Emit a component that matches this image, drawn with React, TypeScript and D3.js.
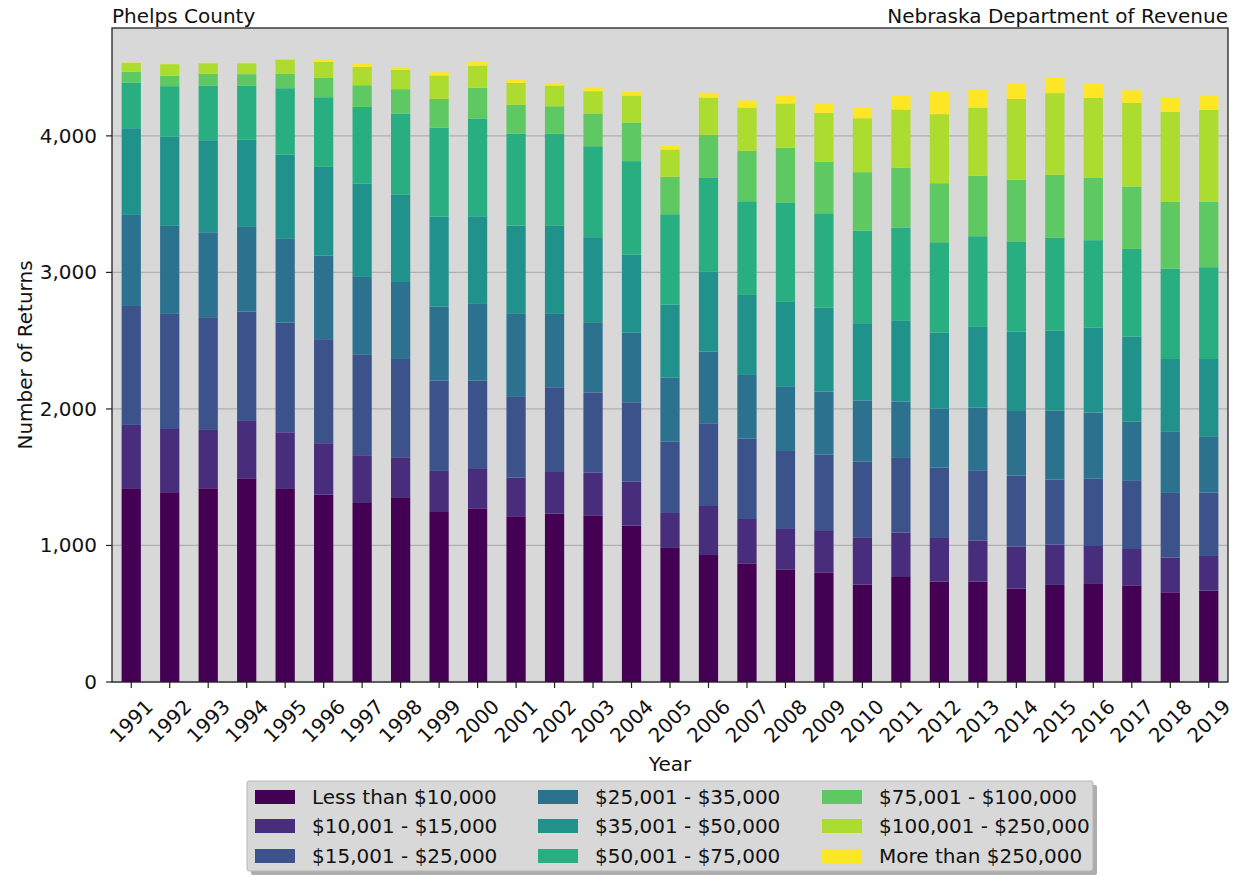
import React from "react";
import * as d3 from "d3";

const years = ["1991","1992","1993","1994","1995","1996","1997","1998","1999","2000","2001","2002","2003","2004","2005","2006","2007","2008","2009","2010","2011","2012","2013","2014","2015","2016","2017","2018","2019"];

const seriesNames = ["Less than $10,000","$10,001 - $15,000","$15,001 - $25,000","$25,001 - $35,000","$35,001 - $50,000","$50,001 - $75,000","$75,001 - $100,000","$100,001 - $250,000","More than $250,000"];

const seriesColors = ["#440154","#472d7b","#3b528b","#2c728e","#21918c","#28ae80","#5ec962","#addc30","#fde725"];

const lt10k = [1414,1390,1419,1492,1414,1372,1311,1348,1245,1272,1214,1233,1221,1145,982,930,869,825,803,713,769,735,735,684,711,718,708,657,669];
const k10to15 = [469,463,427,420,415,377,350,298,301,288,283,305,312,322,256,359,325,296,303,347,325,320,300,307,295,278,266,254,254];
const k15to25 = [871,843,826,801,803,762,735,720,662,648,591,621,587,582,522,606,588,571,559,554,547,515,516,521,476,493,499,474,464];
const k25to35 = [667,645,622,620,618,612,571,564,542,561,608,537,515,510,469,525,467,474,462,447,413,432,459,473,506,484,434,447,413];
const k35to50 = [635,654,674,640,613,650,684,638,659,642,647,645,623,571,535,584,586,618,615,567,591,557,591,582,586,623,623,534,566];
const k50to75 = [335,369,401,396,486,510,561,596,652,716,674,674,666,685,662,688,686,725,691,678,681,662,664,656,679,640,642,662,672];
const k75to100 = [78,76,85,83,107,142,159,178,210,225,210,202,240,283,274,315,369,403,377,428,440,432,442,455,461,459,457,488,478];
const k100to250 = [66,85,78,80,103,117,134,142,171,163,161,152,163,197,200,274,317,325,358,395,427,506,500,593,599,583,613,660,674];
const gt250k = [3,3,3,3,3,15,25,14,24,29,27,19,25,30,27,34,52,61,66,78,100,163,132,115,114,105,92,102,103];

const yTicks = [0, 1000, 2000, 3000, 4000];

const W = 1239, H = 875;
const M = { left: 112, right: 1228, top: 28, bottom: 682 };
const FONT = "DejaVu Sans, sans-serif";
const FS = 20;

export default function App() {
  const allSeries = [lt10k, k10to15, k15to25, k25to35, k35to50, k50to75, k75to100, k100to250, gt250k];
  const rows = years.map((y, i) => {
    const r: any = { year: y };
    seriesNames.forEach((n, j) => (r[n] = allSeries[j][i]));
    return r;
  });
  const stacked = d3.stack().keys(seriesNames)(rows as any);

  const x = d3.scaleBand().domain(years).range([M.left, M.right]).paddingInner(0.5).paddingOuter(0.25);
  const y = d3.scaleLinear().domain([0, 4790]).range([M.bottom, M.top]);
  const fmt = d3.format(",");

  const legendX = 247, legendY = 781, legendW = 846, legendH = 90;
  const colX = [255, 538, 822];
  const rowY = [797, 826, 856];

  return (
    <svg width={W} height={H} style={{ position: "absolute", left: 0, top: 0, background: "#fff" }} fontFamily={FONT}>
      <rect x={M.left} y={M.top} width={M.right - M.left} height={M.bottom - M.top} fill="#d8d8d8" />
      {yTicks.map((t) => (
        <line key={t} x1={M.left} x2={M.right} y1={y(t)} y2={y(t)} stroke="#b0b0b0" strokeWidth={1.2} />
      ))}
      {stacked.map((s, j) => (
        <g key={s.key} fill={seriesColors[j]}>
          {s.map((d: any, i: number) => (
            <rect key={i} x={x(years[i])} width={x.bandwidth()} y={y(d[1])} height={Math.max(0, y(d[0]) - y(d[1]))} />
          ))}
        </g>
      ))}
      <rect x={M.left} y={M.top} width={M.right - M.left} height={M.bottom - M.top} fill="none" stroke="#222" strokeWidth={1.3} />
      {yTicks.map((t) => (
        <g key={t}>
          <line x1={M.left - 6} x2={M.left} y1={y(t)} y2={y(t)} stroke="#222" strokeWidth={1.2} />
          <text x={97} y={y(t)} dy="0.35em" textAnchor="end" fontSize={FS} fill="#111">{fmt(t)}</text>
        </g>
      ))}
      {years.map((yr) => {
        const cx = (x(yr) as number) + x.bandwidth() / 2;
        return (
          <g key={yr}>
            <line x1={cx} x2={cx} y1={M.bottom} y2={M.bottom + 6} stroke="#222" strokeWidth={1.2} />
            <text transform={`translate(${cx},${M.bottom + 39}) rotate(-45)`} textAnchor="middle" dy="0.35em" fontSize={FS} fill="#111">{yr}</text>
          </g>
        );
      })}
      <text x={(M.left + M.right) / 2} y={771} textAnchor="middle" fontSize={FS} fill="#111">Year</text>
      <text transform={`translate(32,${(M.top + M.bottom) / 2}) rotate(-90)`} textAnchor="middle" fontSize={FS} fill="#111">Number of Returns</text>
      <text x={M.left} y={23} fontSize={FS} fill="#111">Phelps County</text>
      <text x={M.right} y={23} textAnchor="end" fontSize={FS} fill="#111">Nebraska Department of Revenue</text>

      <rect x={legendX + 4} y={legendY + 4} width={legendW} height={legendH} fill="#8a8a8a" opacity={0.7} rx={2} />
      <rect x={legendX} y={legendY} width={legendW} height={legendH} fill="#d8d8d8" stroke="#b5b5b5" strokeWidth={1} rx={2} />
      {seriesNames.map((n, j) => {
        const c = Math.floor(j / 3), r = j % 3;
        return (
          <g key={n}>
            <rect x={colX[c]} y={rowY[r] - 7} width={40} height={14} fill={seriesColors[j]} />
            <text x={colX[c] + 57} y={rowY[r]} dy="0.35em" fontSize={FS} fill="#111">{n}</text>
          </g>
        );
      })}
    </svg>
  );
}
